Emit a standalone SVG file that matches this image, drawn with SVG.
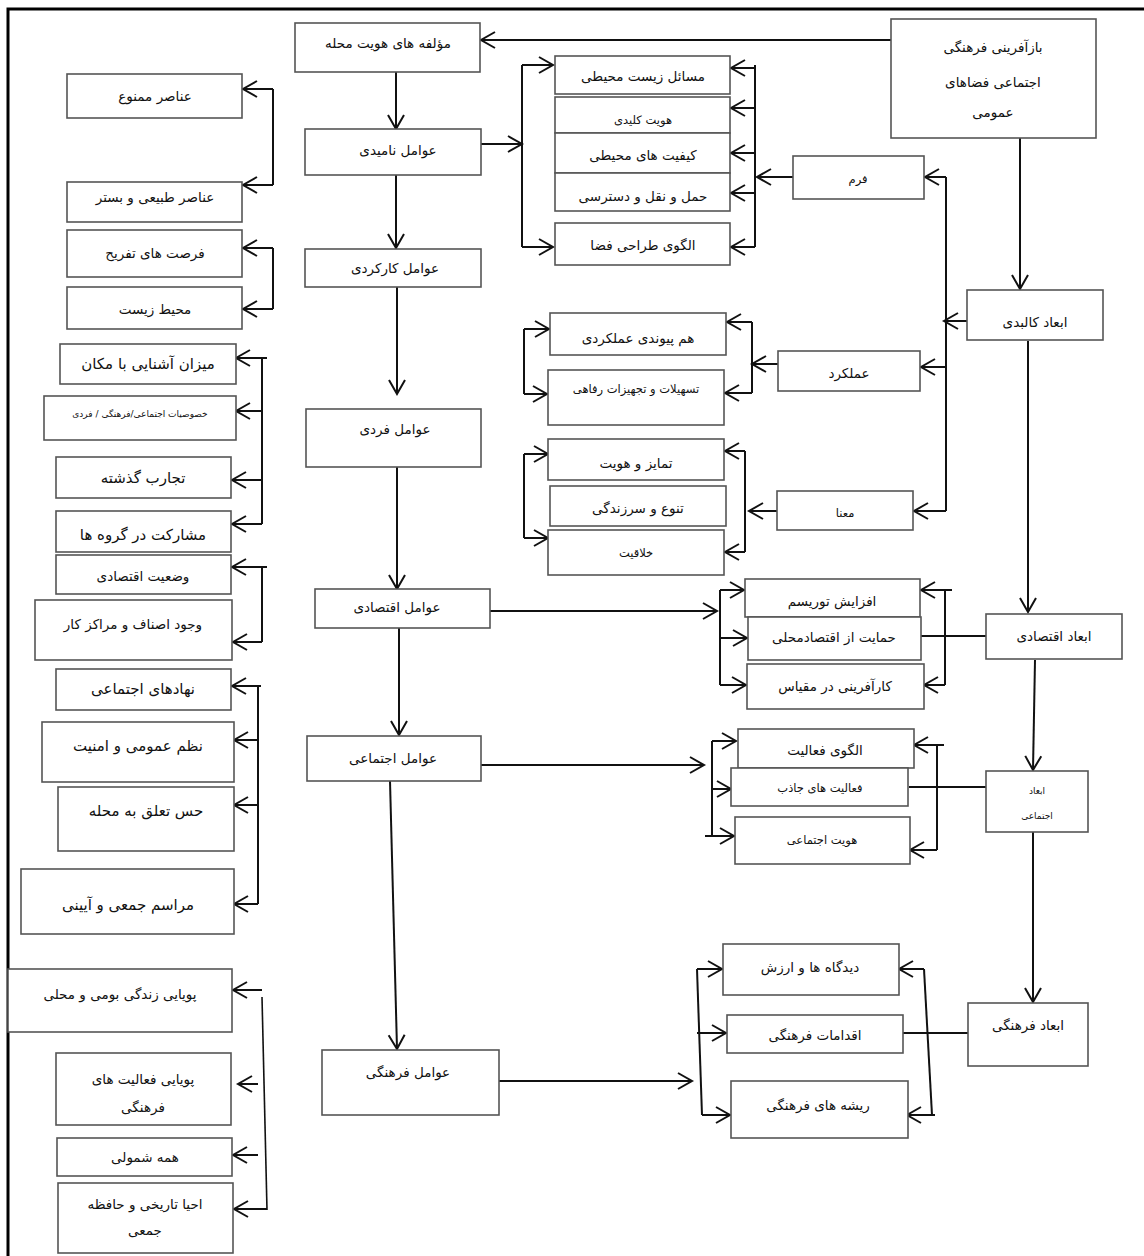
<svg xmlns="http://www.w3.org/2000/svg" width="1144" height="1256" viewBox="0 0 1144 1256">
<style>
.b{fill:#fff;stroke:#555;stroke-width:1.6}
.c{fill:none;stroke:#111;stroke-width:2}
text{font-family:"DejaVu Sans",sans-serif;fill:#111;text-anchor:middle;dominant-baseline:central;direction:rtl}
.t{font-size:13.5px}
.s{font-size:11.5px}
.l{font-size:15px}
.xs{font-size:9px}
</style>
<defs>
<marker id="a" markerUnits="userSpaceOnUse" markerWidth="18" markerHeight="20" refX="14" refY="8" orient="auto" overflow="visible">
<path d="M0,0 L14,8 L0,16" fill="none" stroke="#111" stroke-width="2"/>
</marker>
</defs>
<rect width="1144" height="1256" fill="#fff"/>
<path d="M8,1256 V9 H1144" fill="none" stroke="#000" stroke-width="3"/>

<g id="connectors">
<path class="c" d="M891,40 H481" marker-end="url(#a)"/>
<path class="c" d="M396,72 V129" marker-end="url(#a)"/>
<path class="c" d="M396,175 V248" marker-end="url(#a)"/>
<path class="c" d="M397,287 V394" marker-end="url(#a)"/>
<path class="c" d="M397,467 V589" marker-end="url(#a)"/>
<path class="c" d="M399,628 V735" marker-end="url(#a)"/>
<path class="c" d="M390,781 L397,1049" marker-end="url(#a)"/>

<path class="c" d="M481,144 H522" marker-end="url(#a)"/>
<path class="c" d="M522,65 V247"/>
<path class="c" d="M522,65 H553" marker-end="url(#a)"/>
<path class="c" d="M522,247 H553" marker-end="url(#a)"/>
<path class="c" d="M755,65 V247"/>
<path class="c" d="M755,68 H731" marker-end="url(#a)"/>
<path class="c" d="M755,108 H731" marker-end="url(#a)"/>
<path class="c" d="M755,153 H731" marker-end="url(#a)"/>
<path class="c" d="M755,193 H731" marker-end="url(#a)"/>
<path class="c" d="M755,247 H731" marker-end="url(#a)"/>
<path class="c" d="M793,177 H757" marker-end="url(#a)"/>

<path class="c" d="M1020,138 V289" marker-end="url(#a)"/>
<path class="c" d="M946,177 V511"/>
<path class="c" d="M946,177 H925" marker-end="url(#a)"/>
<path class="c" d="M967,321 H944" marker-end="url(#a)"/>
<path class="c" d="M946,367 H921" marker-end="url(#a)"/>
<path class="c" d="M946,511 H914" marker-end="url(#a)"/>

<path class="c" d="M778,364 H752" marker-end="url(#a)"/>
<path class="c" d="M752,322 V393"/>
<path class="c" d="M752,322 H727" marker-end="url(#a)"/>
<path class="c" d="M752,393 H725" marker-end="url(#a)"/>
<path class="c" d="M524,329 V394"/>
<path class="c" d="M524,329 H549" marker-end="url(#a)"/>
<path class="c" d="M524,394 H547" marker-end="url(#a)"/>

<path class="c" d="M777,511 H749" marker-end="url(#a)"/>
<path class="c" d="M745,451 V552"/>
<path class="c" d="M745,451 H725" marker-end="url(#a)"/>
<path class="c" d="M745,552 H725" marker-end="url(#a)"/>
<path class="c" d="M524,454 V538"/>
<path class="c" d="M524,454 H548" marker-end="url(#a)"/>
<path class="c" d="M524,538 H548" marker-end="url(#a)"/>

<path class="c" d="M1028,341 V612" marker-end="url(#a)"/>
<path class="c" d="M490,611 H717" marker-end="url(#a)"/>
<path class="c" d="M720,590 V685"/>
<path class="c" d="M720,590 H744" marker-end="url(#a)"/>
<path class="c" d="M720,638 H747" marker-end="url(#a)"/>
<path class="c" d="M720,685 H746" marker-end="url(#a)"/>
<path class="c" d="M945,590 V685"/>
<path class="c" d="M952,590 H921" marker-end="url(#a)"/>
<path class="c" d="M945,685 H924" marker-end="url(#a)"/>
<path class="c" d="M986,636 H921"/>

<path class="c" d="M1035,660 L1033,770" marker-end="url(#a)"/>
<path class="c" d="M481,765 H704" marker-end="url(#a)"/>
<path class="c" d="M712,741 V836"/>
<path class="c" d="M712,741 H736" marker-end="url(#a)"/>
<path class="c" d="M712,789 H731" marker-end="url(#a)"/>
<path class="c" d="M705,836 H734" marker-end="url(#a)"/>
<path class="c" d="M937,745 V850"/>
<path class="c" d="M944,745 H914" marker-end="url(#a)"/>
<path class="c" d="M937,850 H910" marker-end="url(#a)"/>
<path class="c" d="M986,787 H909"/>

<path class="c" d="M1033,832 V1002" marker-end="url(#a)"/>
<path class="c" d="M499,1081 H692" marker-end="url(#a)"/>
<path class="c" d="M697,969 L702,1115"/>
<path class="c" d="M697,969 H722" marker-end="url(#a)"/>
<path class="c" d="M697,1033 H726" marker-end="url(#a)"/>
<path class="c" d="M702,1115 H730" marker-end="url(#a)"/>
<path class="c" d="M924,969 L932,1115"/>
<path class="c" d="M924,969 H899" marker-end="url(#a)"/>
<path class="c" d="M935,1115 H907" marker-end="url(#a)"/>
<path class="c" d="M968,1033 H899"/>

<path class="c" d="M273,89 V185"/>
<path class="c" d="M273,89 H243" marker-end="url(#a)"/>
<path class="c" d="M273,185 H243" marker-end="url(#a)"/>
<path class="c" d="M273,248 V309"/>
<path class="c" d="M273,248 H243" marker-end="url(#a)"/>
<path class="c" d="M273,309 H243" marker-end="url(#a)"/>
<path class="c" d="M262,358 V524"/>
<path class="c" d="M267,358 H236" marker-end="url(#a)"/>
<path class="c" d="M262,411 H236" marker-end="url(#a)"/>
<path class="c" d="M262,480 H232" marker-end="url(#a)"/>
<path class="c" d="M262,524 H232" marker-end="url(#a)"/>
<path class="c" d="M262,566 V642"/>
<path class="c" d="M267,567 H232" marker-end="url(#a)"/>
<path class="c" d="M262,642 H233" marker-end="url(#a)"/>
<path class="c" d="M258,686 V904"/>
<path class="c" d="M261,686 H232" marker-end="url(#a)"/>
<path class="c" d="M258,740 H234" marker-end="url(#a)"/>
<path class="c" d="M258,805 H234" marker-end="url(#a)"/>
<path class="c" d="M258,904 H234" marker-end="url(#a)"/>
<path class="c" d="M262,997 L267,1210" style="stroke-width:1.6"/>
<path class="c" d="M262,990 H233" marker-end="url(#a)"/>
<path class="c" d="M258,1084 H238" marker-end="url(#a)"/>
<path class="c" d="M258,1155 H233" marker-end="url(#a)"/>
<path class="c" d="M267,1209 H234" marker-end="url(#a)"/>
</g>

<g id="n1"><rect class="b" x="295" y="23" width="185" height="49"/><text class="t" x="388" y="43">مؤلفه های هویت محله</text></g>
<g id="n2"><rect class="b" x="305" y="129" width="176" height="46"/><text class="t" x="398" y="150">عوامل نامیدی</text></g>
<g id="n3"><rect class="b" x="305" y="249" width="176" height="38"/><text class="t" x="395" y="268">عوامل کارکردی</text></g>
<g id="n4"><rect class="b" x="306" y="409" width="175" height="58"/><text class="t" x="395" y="429">عوامل فردی</text></g>
<g id="n5"><rect class="b" x="315" y="589" width="175" height="39"/><text class="t" x="397" y="607">عوامل اقتصادی</text></g>
<g id="n6"><rect class="b" x="307" y="736" width="174" height="45"/><text class="t" x="393" y="758">عوامل اجتماعی</text></g>
<g id="n7"><rect class="b" x="322" y="1050" width="177" height="65"/><text class="t" x="408" y="1072">عوامل فرهنگی</text></g>

<g id="m1"><rect class="b" x="555" y="56" width="175" height="38"/><text class="t" x="643" y="76">مسائل زیست محیطی</text></g>
<g id="m2"><rect class="b" x="555" y="97" width="175" height="36"/><text class="s" x="643" y="120">هویت کلیدی</text></g>
<g id="m3"><rect class="b" x="555" y="133" width="175" height="40"/><text class="t" x="643" y="155">کیفیت های محیطی</text></g>
<g id="m4"><rect class="b" x="555" y="173" width="175" height="38"/><text class="t" x="643" y="196">حمل و نقل و دسترسی</text></g>
<g id="m5"><rect class="b" x="555" y="223" width="175" height="42"/><text class="t" x="643" y="245">الگوی طراحی فضا</text></g>
<g id="m6"><rect class="b" x="550" y="313" width="176" height="42"/><text class="t" x="638" y="338">هم پیوندی عملکردی</text></g>
<g id="m7"><rect class="b" x="548" y="370" width="176" height="55"/><text class="s" x="636" y="389">تسهیلات و تجهیزات رفاهی</text></g>
<g id="m8"><rect class="b" x="548" y="439" width="176" height="41"/><text class="t" x="636" y="463">تمایز و هویت</text></g>
<g id="m9"><rect class="b" x="550" y="486" width="176" height="40"/><text class="t" x="638" y="508">تنوع و سرزندگی</text></g>
<g id="m10"><rect class="b" x="548" y="530" width="176" height="45"/><text class="s" x="636" y="553">خلاقیت</text></g>

<g id="r1"><rect class="b" x="793" y="156" width="131" height="43"/><text class="s" x="858" y="179">فرم</text></g>
<g id="r2"><rect class="b" x="778" y="351" width="142" height="40"/><text class="t" x="849" y="373">عملکرد</text></g>
<g id="r3"><rect class="b" x="777" y="491" width="136" height="39"/><text class="s" x="845" y="513">معنا</text></g>

<g id="root"><rect class="b" x="891" y="19" width="205" height="119"/><text class="t" x="993" y="47">بازآفرینی فرهنگی</text><text class="t" x="993" y="82">اجتماعی فضاهای</text><text class="t" x="993" y="112">عمومی</text></g>
<g id="dimK"><rect class="b" x="967" y="290" width="136" height="50"/><text class="t" x="1035" y="322">ابعاد کالبدی</text></g>

<g id="e1"><rect class="b" x="745" y="579" width="175" height="38"/><text class="t" x="832" y="601">افزایش توریسم</text></g>
<g id="e2"><rect class="b" x="748" y="617" width="173" height="43"/><text class="t" x="834" y="637">حمایت از اقتصادمحلی</text></g>
<g id="e3"><rect class="b" x="747" y="664" width="177" height="45"/><text class="t" x="835" y="686">کارآفرینی در مقیاس</text></g>
<g id="dimE"><rect class="b" x="986" y="614" width="136" height="45"/><text class="t" x="1054" y="636">ابعاد اقتصادی</text></g>

<g id="s1"><rect class="b" x="738" y="729" width="176" height="39"/><text class="t" x="825" y="750">الگوی فعالیت</text></g>
<g id="s2"><rect class="b" x="731" y="768" width="177" height="38"/><text class="s" x="820" y="788">فعالیت های جاذب</text></g>
<g id="s3"><rect class="b" x="735" y="817" width="175" height="47"/><text class="s" x="822" y="840">هویت اجتماعی</text></g>
<g id="dimS"><rect class="b" x="986" y="771" width="102" height="61"/><text class="xs" x="1037" y="791">ابعاد</text><text class="xs" x="1037" y="816">اجتماعی</text></g>

<g id="c1"><rect class="b" x="723" y="944" width="176" height="51"/><text class="t" x="810" y="967">دیدگاه ها و ارزش</text></g>
<g id="c2"><rect class="b" x="727" y="1015" width="176" height="38"/><text class="t" x="815" y="1035">اقدامات فرهنگی</text></g>
<g id="c3"><rect class="b" x="731" y="1081" width="177" height="57"/><text class="t" x="818" y="1105">ریشه های فرهنگی</text></g>
<g id="dimC"><rect class="b" x="968" y="1003" width="120" height="63"/><text class="t" x="1028" y="1025">ابعاد فرهنگی</text></g>

<g id="L1"><rect class="b" x="67" y="74" width="175" height="44"/><text class="t" x="155" y="96">عناصر ممنوع</text></g>
<g id="L2"><rect class="b" x="67" y="182" width="175" height="40"/><text class="t" x="155" y="197">عناصر طبیعی و بستر</text></g>
<g id="L3"><rect class="b" x="67" y="230" width="175" height="47"/><text class="t" x="155" y="253">فرصت های تفریح</text></g>
<g id="L4"><rect class="b" x="67" y="287" width="175" height="42"/><text class="t" x="155" y="309">محیط زیست</text></g>
<g id="L5"><rect class="b" x="60" y="344" width="176" height="40"/><text class="l" x="148" y="364">میزان آشنایی با مکان</text></g>
<g id="L6"><rect class="b" x="44" y="396" width="192" height="44"/><text class="xs" x="140" y="414">خصوصیات اجتماعی/فرهنگی / فردی</text></g>
<g id="L7"><rect class="b" x="56" y="457" width="175" height="41"/><text class="l" x="143" y="478">تجارب گذشته</text></g>
<g id="L8"><rect class="b" x="56" y="511" width="175" height="41"/><text class="l" x="143" y="535">مشارکت در گروه ها</text></g>
<g id="L9"><rect class="b" x="56" y="555" width="175" height="39"/><text class="t" x="143" y="576">وضعیت اقتصادی</text></g>
<g id="L10"><rect class="b" x="35" y="600" width="197" height="60"/><text class="t" x="133" y="624">وجود اصناف و مراکز کار</text></g>
<g id="L11"><rect class="b" x="56" y="669" width="175" height="41"/><text class="l" x="143" y="689">نهادهای اجتماعی</text></g>
<g id="L12"><rect class="b" x="42" y="722" width="192" height="60"/><text class="l" x="138" y="746">نظم عمومی و امنیت</text></g>
<g id="L13"><rect class="b" x="58" y="787" width="176" height="64"/><text class="l" x="146" y="811">حس تعلق به محله</text></g>
<g id="L14"><rect class="b" x="21" y="869" width="213" height="65"/><text class="l" x="128" y="905">مراسم جمعی و آیینی</text></g>
<g id="L15"><rect class="b" x="8" y="969" width="224" height="63"/><text class="t" x="120" y="994">پویایی زندگی بومی و محلی</text></g>
<g id="L16"><rect class="b" x="56" y="1053" width="175" height="72"/><text class="t" x="143" y="1079">پویایی فعالیت های</text><text class="t" x="143" y="1107">فرهنگی</text></g>
<g id="L17"><rect class="b" x="57" y="1138" width="175" height="38"/><text class="t" x="145" y="1157">همه شمولی</text></g>
<g id="L18"><rect class="b" x="58" y="1183" width="175" height="70"/><text class="t" x="145" y="1204">احیا تاریخی و حافظه</text><text class="t" x="145" y="1230">جمعی</text></g>
</svg>
